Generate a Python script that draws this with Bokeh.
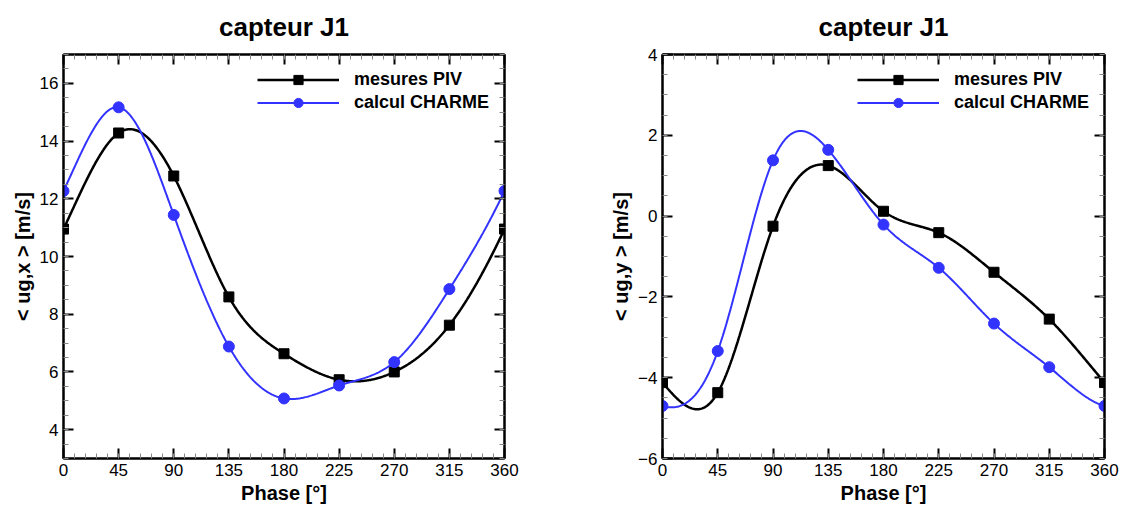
import numpy as np
from bokeh.plotting import figure
from bokeh.models import FixedTicker, LinearAxis, Range1d, Legend, LegendItem
from bokeh.layouts import row
from bokeh.embed import file_html
from bokeh.resources import INLINE

# ---- data ----
phase = [0, 45, 90, 135, 180, 225, 270, 315, 360]
ugx_piv = [10.95, 14.28, 12.79, 8.60, 6.63, 5.73, 6.00, 7.62, 10.95]
ugx_charme = [12.27, 15.17, 11.44, 6.88, 5.08, 5.53, 6.34, 8.87, 12.27]
ugy_piv = [-4.12, -4.37, -0.25, 1.25, 0.12, -0.41, -1.39, -2.55, -4.12]
ugy_charme = [-4.70, -3.34, 1.38, 1.64, -0.21, -1.28, -2.66, -3.74, -4.70]

x_ticks = [0, 45, 90, 135, 180, 225, 270, 315, 360]
ugx_ticks = [4, 6, 8, 10, 12, 14, 16]
ugy_ticks = [-6, -4, -2, 0, 2, 4]

title_text = "capteur J1"
x_label = "Phase [°]"
ugx_label = "< ug,x > [m/s]"
ugy_label = "< ug,y > [m/s]"
legend_labels = ["mesures PIV", "calcul CHARME"]

FONT = "Liberation Sans"
BLUE = "#3333FF"


def periodic_spline(x, y, n=500):
    """Periodic cubic spline through the data points (for drawing the smooth curve)."""
    x = np.asarray(x, float)
    y = np.asarray(y, float)
    m = len(x) - 1
    h = np.diff(x)
    A = np.zeros((m, m))
    r = np.zeros(m)
    for i in range(m):
        hp = h[i - 1]
        hn = h[i]
        yp = y[i - 1] if i > 0 else y[m - 1]
        A[i, (i - 1) % m] += hp
        A[i, i] += 2 * (hp + hn)
        A[i, (i + 1) % m] += hn
        r[i] = 6 * ((y[i + 1] - y[i]) / hn - (y[i] - yp) / hp)
    M = np.linalg.solve(A, r)
    M = np.append(M, M[0])
    xs = np.linspace(x[0], x[-1], n)
    idx = np.clip(np.searchsorted(x, xs) - 1, 0, m - 1)
    x0 = x[idx]
    x1 = x[idx + 1]
    hh = x1 - x0
    a = (x1 - xs) / hh
    b = (xs - x0) / hh
    ys = a * y[idx] + b * y[idx + 1] + ((a ** 3 - a) * M[idx] + (b ** 3 - b) * M[idx + 1]) * hh ** 2 / 6
    return xs, ys


def style_axis(ax, ticks, minor, show_labels=True):
    ax.ticker = FixedTicker(ticks=ticks, minor_ticks=minor)
    ax.axis_line_width = 2
    ax.axis_line_color = "black"
    ax.major_tick_in = 10
    ax.major_tick_out = 0
    ax.major_tick_line_width = 2
    ax.major_tick_line_color = "black"
    ax.minor_tick_in = 5
    ax.minor_tick_out = 0
    ax.minor_tick_line_width = 1
    ax.minor_tick_line_color = "#888888"
    if show_labels:
        ax.major_label_text_font = FONT
        ax.major_label_text_font_size = "17px"
        ax.major_label_text_color = "black"
        ax.major_label_standoff = 5
        ax.axis_label_text_font = FONT
        ax.axis_label_text_font_size = "20px"
        ax.axis_label_text_font_style = "bold"
        ax.axis_label_text_color = "black"
        ax.axis_label_standoff = 3
    else:
        ax.major_label_text_font_size = "0px"
        ax.major_label_text_color = None
        ax.major_label_standoff = 0
        ax.axis_label_standoff = 0


def make_panel(ylab, y_piv, y_ch, yr, yticks, ystep_minor, bl, br, leg_x):
    p = figure(width=561, height=508, x_range=Range1d(0, 360), y_range=Range1d(*yr),
               output_backend="svg", toolbar_location=None,
               min_border_left=bl, min_border_right=br, min_border_top=54, min_border_bottom=50)
    p.title.text = title_text
    p.title.align = "center"
    p.title.vertical_align = "top"
    p.title.text_font = FONT
    p.title.text_font_size = "26px"
    p.title.text_font_style = "bold"
    p.title.text_color = "black"
    p.title.standoff = 22
    p.xgrid.visible = False
    p.ygrid.visible = False
    p.outline_line_color = "black"
    p.outline_line_width = 2
    p.background_fill_color = "white"
    p.border_fill_color = "white"

    xminor = list(np.arange(0, 361, 9))
    yminor = list(np.arange(yr[0], yr[1] + 1e-9, ystep_minor))

    style_axis(p.xaxis[0], x_ticks, xminor)
    p.xaxis[0].axis_label = x_label
    style_axis(p.yaxis[0], yticks, yminor)
    p.yaxis[0].axis_label = ylab

    top = LinearAxis()
    style_axis(top, x_ticks, xminor, show_labels=False)
    p.add_layout(top, "above")
    right = LinearAxis()
    style_axis(right, yticks, yminor, show_labels=False)
    p.add_layout(right, "right")

    xs, ys = periodic_spline(phase, y_piv)
    l1 = p.line(xs, ys, line_color="black", line_width=2.5)
    m1 = p.scatter(phase, y_piv, marker="square", size=10, fill_color="black", line_color="black")
    xs, ys = periodic_spline(phase, y_ch)
    l2 = p.line(xs, ys, line_color=BLUE, line_width=2)
    m2 = p.scatter(phase, y_ch, marker="circle", size=11, fill_color=BLUE, line_color=BLUE)

    leg = Legend(items=[LegendItem(label=legend_labels[0], renderers=[l1, m1]),
                        LegendItem(label=legend_labels[1], renderers=[l2, m2])],
                 location=(leg_x, 404 - 12 - 46 - 12 + 10))
    leg.glyph_width = 82
    leg.glyph_height = 23
    leg.label_height = 23
    leg.spacing = 0
    leg.padding = 12
    leg.margin = 0
    leg.label_standoff = 15
    leg.label_text_font = FONT
    leg.label_text_font_size = "18px"
    leg.label_text_font_style = "bold"
    leg.label_text_color = "black"
    leg.border_line_color = None
    leg.background_fill_alpha = 0
    p.add_layout(leg, "center")
    return p


p1 = make_panel(ugx_label, ugx_piv, ugx_charme, (3, 17), ugx_ticks, 0.5, 63, 57, 194)
p2 = make_panel(ugy_label, ugy_piv, ugy_charme, (-6, 4), ugy_ticks, 0.5, 101, 18, 195)

layout = row(p1, p2)
open("out.html", "w").write(file_html(layout, INLINE))
